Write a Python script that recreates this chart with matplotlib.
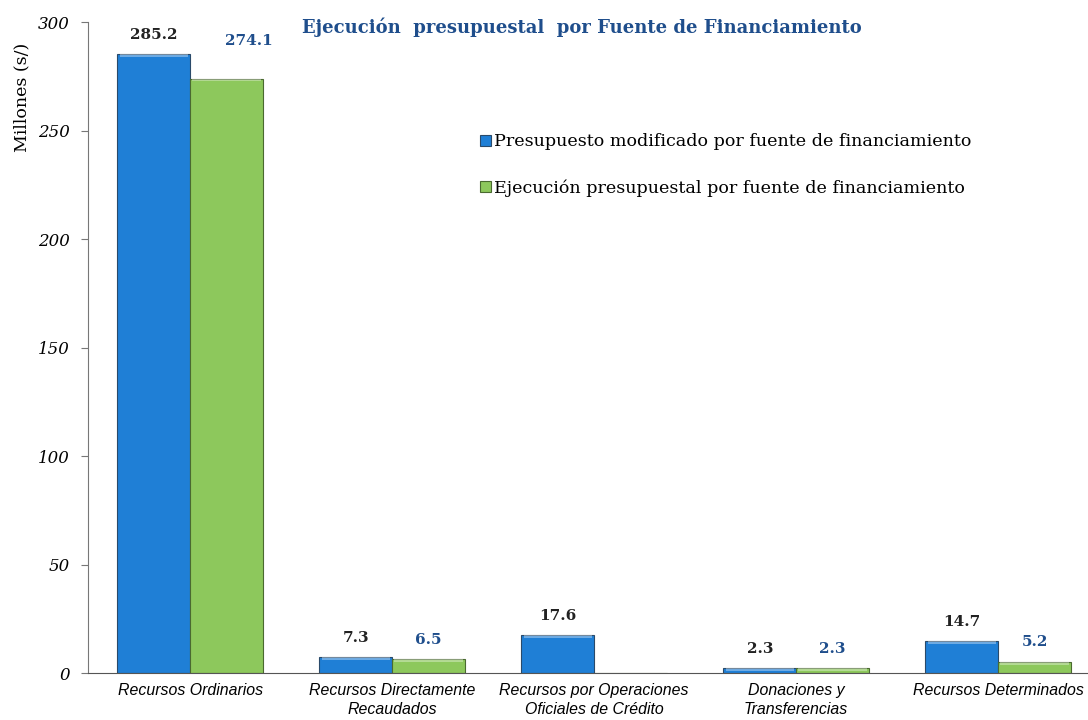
import matplotlib.pyplot as plt
import numpy as np

# datos (millones de soles)
categorias = ["Recursos Ordinarios", "Recursos Directamente\nRecaudados",
              "Recursos por Operaciones\nOficiales de Crédito", "Donaciones y\nTransferencias",
              "Recursos Determinados"]
presupuesto = [285.2, 7.3, 17.6, 2.3, 14.7]
ejecucion = [274.1, 6.5, 0, 2.3, 5.2]
etq_pres = ["285.2", "7.3", "17.6", "2.3", "14.7"]
etq_ejec = ["274.1", "6.5", "", "2.3", "5.2"]

azul = "#1f7fd6"
verde = "#8dc85c"
azul_txt = "#1f4e8c"
serif = ["DejaVu Serif"]

fig = plt.figure(figsize=(10.88, 7.2), dpi=100)
ax = fig.add_axes([0.081, 0.065, 0.919, 0.904])

x = np.arange(len(categorias))
w = 0.36
b1 = ax.bar(x - w / 2, presupuesto, w, color=azul, edgecolor="#2a4a6a", linewidth=0.8,
            label="Presupuesto modificado por fuente de financiamiento")
b2 = ax.bar(x + w / 2, ejecucion, w, color=verde, edgecolor="#4a6a30", linewidth=0.8,
            label="Ejecución presupuestal por fuente de financiamiento")

# brillo superior de las barras
for barras in (b1, b2):
    for r in barras:
        h = r.get_height()
        if h > 0:
            ax.bar(r.get_x() + r.get_width() / 2, min(h, 1.2), r.get_width() * 0.94,
                   bottom=h - min(h, 1.2), color="white", alpha=0.35, linewidth=0)

for i in range(len(x)):
    ax.annotate(etq_pres[i], (x[i] - w / 2, presupuesto[i]), xytext=(0, 9),
                textcoords="offset points", ha="center", va="bottom",
                fontsize=11, fontweight="bold", family=serif, color="#222222")
    if etq_ejec[i]:
        dy = 22 if ejecucion[i] > 100 else 9
        dx = 16 if ejecucion[i] > 100 else 0
        ax.annotate(etq_ejec[i], (x[i] + w / 2, ejecucion[i]), xytext=(dx, dy),
                    textcoords="offset points", ha="center", va="bottom",
                    fontsize=11, fontweight="bold", family=serif, color=azul_txt)

ax.set_xlim(-0.505, 4.445)
ax.set_ylim(0, 300)
ax.set_yticks([0, 50, 100, 150, 200, 250, 300])
ax.set_yticklabels(["0", "50", "100", "150", "200", "250", "300"],
                   fontsize=12, fontstyle="italic", family=serif)
ax.set_xticks(x)
ax.set_xticklabels(categorias, fontsize=11.4, fontstyle="italic",
                   family=["Liberation Sans"], linespacing=1.35)
ax.tick_params(axis="x", length=0, pad=7)
ax.tick_params(axis="y", length=5, color="#777777", pad=8)
ax.set_ylabel("Millones (s/)", fontsize=12.5, family=serif)
ax.yaxis.set_label_coords(-0.058, 0.885)

for s in ("top", "right"):
    ax.spines[s].set_visible(False)
ax.spines["left"].set_color("#777777")
ax.spines["bottom"].set_color("#555555")

fig.text(0.535, 0.962, "Ejecución  presupuestal  por Fuente de Financiamiento",
         ha="center", va="center", fontsize=13, fontweight="bold",
         family=serif, color=azul_txt)

leg = ax.legend(loc="upper left", bbox_to_anchor=(0.385, 0.84), frameon=False,
                prop={"family": serif, "size": 12.6}, handlelength=0.6, handleheight=0.6,
                handletextpad=0.2, labelspacing=1.65, borderaxespad=0)

fig.savefig("out.png", dpi=100)
